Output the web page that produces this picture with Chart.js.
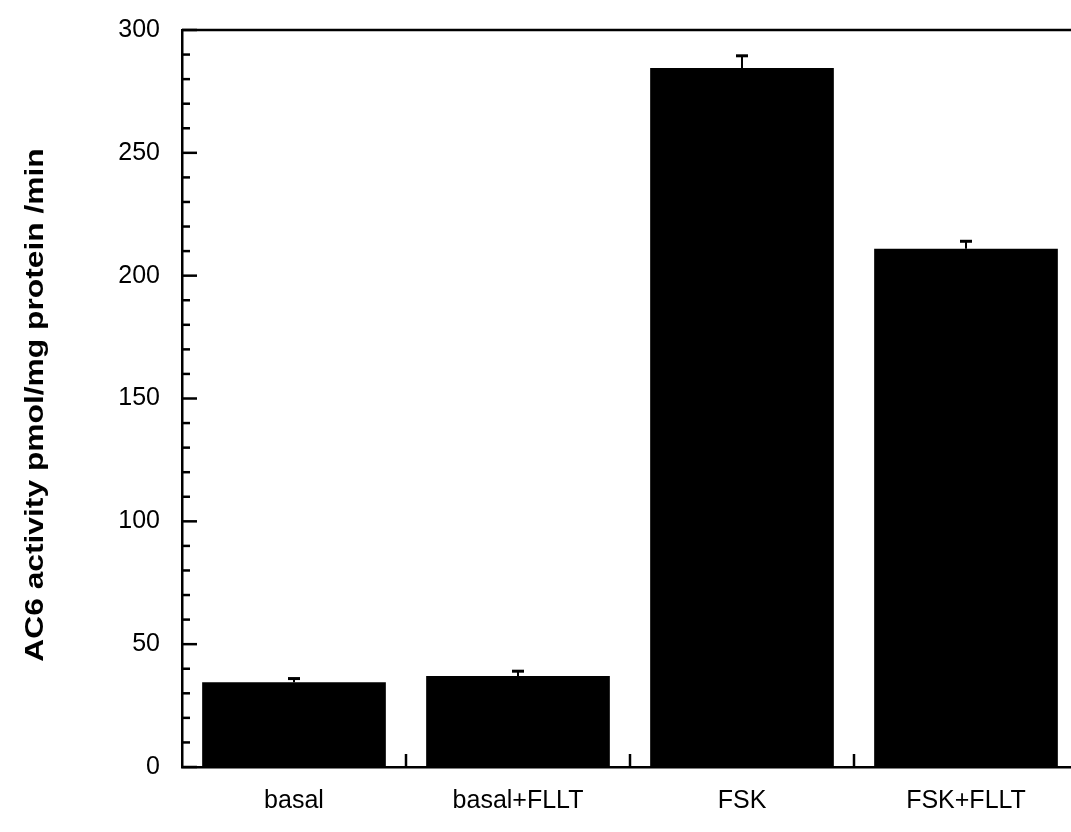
<!DOCTYPE html>
<html>
<head>
<meta charset="utf-8">
<script src="https://cdn.jsdelivr.net/npm/chart.js@4.4.1/dist/chart.umd.min.js"></script>
<style>
  html, body { margin: 0; padding: 0; background: #ffffff; overflow: hidden; }
  #wrap { width: 1071px; height: 832px; overflow: hidden; }
</style>
</head>
<body>
<div id="wrap"><canvas id="acChart" width="1080" height="832"></canvas></div>
<script>
// AC6 activity by treatment, mean + upper error bar
const categories = ['basal', 'basal+FLLT', 'FSK', 'FSK+FLLT'];
const activity = [34.5, 37, 284.5, 211];
const activityErr = [1.5, 2, 5, 3];
const yLabel = 'AC6 activity pmol/mg protein /min';

const FONT = '"Liberation Sans", Arial, Helvetica, sans-serif';

// inward tick marks, category separators, top frame line and error bars
const frameAndErrors = {
  id: 'frameAndErrors',
  afterDatasetsDraw(chart) {
    const { ctx, chartArea: a, scales: { x, y } } = chart;
    ctx.save();
    ctx.strokeStyle = '#000';

    // top frame
    ctx.lineWidth = 2.5;
    ctx.beginPath();
    ctx.moveTo(a.left, a.top);
    ctx.lineTo(a.right + 10, a.top);
    ctx.stroke();

    // y ticks, every 10, longer at 50s
    ctx.lineWidth = 2.5;
    for (let v = 0; v <= 300; v += 10) {
      const py = y.getPixelForValue(v);
      const len = v % 50 === 0 ? 15 : 8;
      ctx.beginPath();
      ctx.moveTo(a.left, py);
      ctx.lineTo(a.left + len, py);
      ctx.stroke();
    }

    // short ticks between categories
    for (let i = 0; i < categories.length - 1; i++) {
      const px = (x.getPixelForValue(i) + x.getPixelForValue(i + 1)) / 2;
      ctx.beginPath();
      ctx.moveTo(px, a.bottom);
      ctx.lineTo(px, a.bottom - 13);
      ctx.stroke();
    }

    // upper error bars
    activity.forEach((v, i) => {
      const px = x.getPixelForValue(i);
      const top = y.getPixelForValue(v + activityErr[i]);
      const base = y.getPixelForValue(v);
      ctx.lineWidth = 2;
      ctx.beginPath();
      ctx.moveTo(px, base);
      ctx.lineTo(px, top);
      ctx.stroke();
      ctx.lineWidth = 3;
      ctx.beginPath();
      ctx.moveTo(px - 6, top);
      ctx.lineTo(px + 6, top);
      ctx.stroke();
    });

    // y axis title, stretched along its length
    ctx.fillStyle = '#000';
    ctx.font = 'bold 25px ' + FONT;
    ctx.textAlign = 'center';
    ctx.textBaseline = 'alphabetic';
    ctx.translate(43, 405);
    ctx.rotate(-Math.PI / 2);
    ctx.scale(1.27, 1);
    ctx.fillText(yLabel, 0, 0);
    ctx.restore();
  }
};

new Chart(document.getElementById('acChart'), {
  type: 'bar',
  data: {
    labels: categories,
    datasets: [{
      data: activity,
      backgroundColor: '#000000',
      borderWidth: 0,
      barPercentage: 0.82,
      categoryPercentage: 1.0
    }]
  },
  options: {
    responsive: false,
    animation: false,
    devicePixelRatio: 1,
    layout: { padding: { top: 30, right: 2, left: 0, bottom: 0 } },
    plugins: { legend: { display: false }, tooltip: { enabled: false } },
    scales: {
      x: {
        grid: { display: false, drawTicks: false },
        border: { display: true, color: '#000', width: 2.5 },
        ticks: { color: '#000', font: { family: FONT, size: 25 }, padding: 19, maxRotation: 0 },
        afterFit: s => { s.height = 65; s.paddingLeft = 0; s.paddingRight = 0; }
      },
      y: {
        min: 0,
        max: 300,
        grid: { display: false, drawTicks: false },
        border: { display: true, color: '#000', width: 2.5 },
        ticks: {
          stepSize: 50,
          color: '#000',
          font: { family: FONT, size: 25 },
          padding: 22
        },
        afterFit: s => { s.width = 182; s.paddingTop = 0; s.paddingBottom = 0; }
      }
    }
  },
  plugins: [frameAndErrors]
});
</script>
</body>
</html>
